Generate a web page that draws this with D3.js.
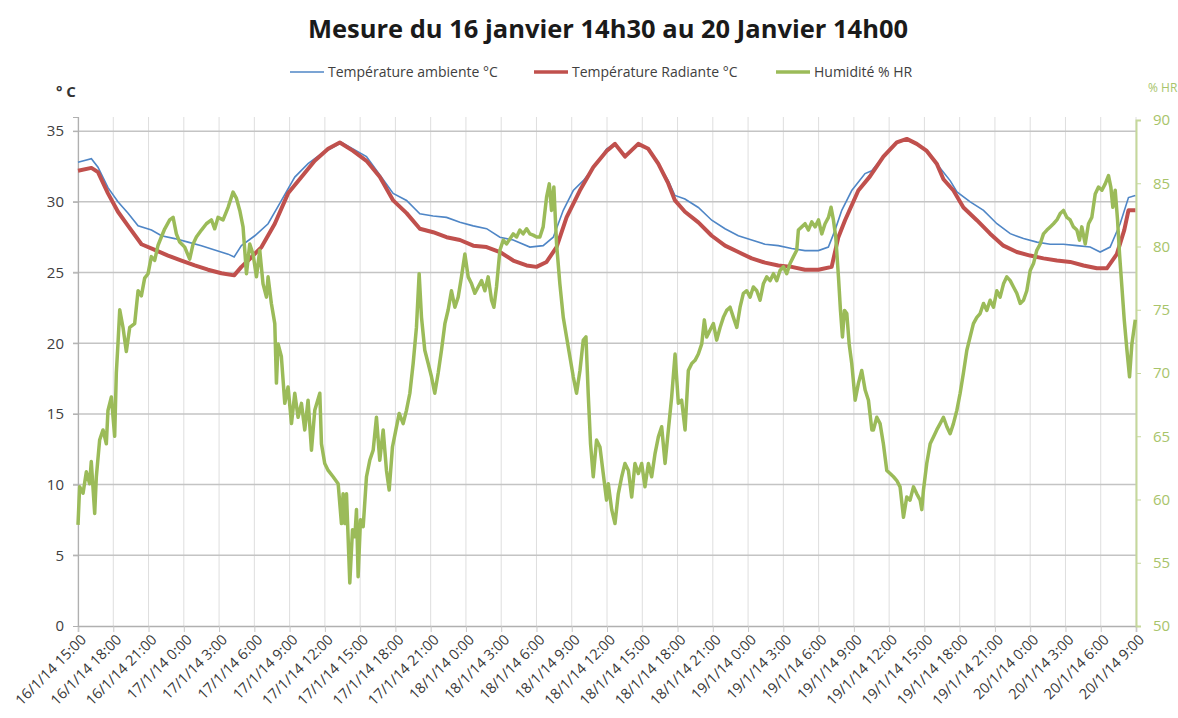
<!DOCTYPE html>
<html>
<head>
<meta charset="utf-8">
<script src="https://cdn.jsdelivr.net/npm/d3@7"></script>
<style>
  body { margin: 0; background: #fff; font-family: "Open Sans", sans-serif; }
</style>
</head>
<body>
<div id="chart"></div>
<script>
// hours after 16/1/14 15:00
var ambHours = [0,1.14,1.70,2.55,3.40,4.26,5.11,6.25,7.10,8.23,9.36,10.5,11.63,12.77,13.28,13.9,15.04,16.17,17.31,18.44,19.57,20.71,22.42,24.54,25.68,26.81,27.95,29.08,30.21,31.35,32.49,33.62,34.76,35.89,37.02,38.44,39.57,40.43,41.28,42.13,42.98,44.12,44.97,45.68,46.53,47.66,48.51,49.36,50.21,50.78,51.63,52.77,53.91,55.04,56.17,57.31,58.44,59.57,60.71,61.84,62.98,63.83,64.4,64.97,65.82,66.95,67.52,68.51,69.65,70.5,71.35,72.2,73.05,73.62,74.19,74.77,75.9,77.03,78.17,79.3,80.43,81.57,82.7,83.83,84.97,86.1,86.95,87.8,88.65,89.36,89.94]
var ambValues = [32.8,33.05,32.45,31.0,30.0,29.2,28.3,28.0,27.6,27.4,27.15,26.9,26.6,26.3,26.1,26.9,27.6,28.45,30.1,31.75,32.7,33.4,34.2,33.2,31.9,30.6,30.1,29.15,29.0,28.9,28.55,28.3,28.1,27.5,27.3,26.8,26.9,27.5,29.4,30.8,31.5,32.7,33.75,34.1,33.3,34.1,33.75,32.7,31.5,30.45,30.2,29.6,28.7,28.1,27.6,27.3,27.0,26.9,26.7,26.55,26.55,26.8,28.0,29.4,30.8,32.0,32.2,33.2,34.2,34.45,34.1,33.6,32.7,32.1,31.5,30.7,30.0,29.4,28.45,27.75,27.4,27.15,27.0,27.0,26.9,26.8,26.45,26.8,28.45,30.3,30.45]

var radHours = [0,1.14,1.70,2.55,3.40,4.26,5.40,6.53,7.66,8.80,9.93,11.06,12.2,13.28,13.9,14.47,15.61,16.74,17.87,19.01,20.14,21.28,22.27,23.4,24.54,25.68,26.81,27.95,29.08,30.21,31.35,32.49,33.62,34.76,35.89,37.02,38.16,39.0,39.86,40.71,41.56,42.69,43.83,44.97,45.68,46.53,47.66,48.51,49.36,50.21,50.78,51.63,52.77,53.91,55.04,56.17,57.31,58.44,59.57,60.71,61.84,62.98,64.11,64.68,65.25,66.38,67.37,68.51,69.65,70.5,71.35,72.2,73.05,73.62,74.47,75.32,76.46,77.59,78.72,79.86,80.99,82.13,83.27,84.4,85.53,86.67,87.52,88.37,89.0,89.36,89.94]
var radValues = [32.2,32.4,32.1,30.6,29.3,28.3,27.0,26.6,26.2,25.85,25.5,25.2,24.95,24.8,25.4,25.85,26.8,28.45,30.6,31.75,32.9,33.75,34.2,33.6,32.9,31.75,30.1,29.2,28.1,27.85,27.5,27.3,26.9,26.8,26.45,25.85,25.5,25.4,25.75,26.8,28.9,30.8,32.45,33.6,34.1,33.2,34.1,33.75,32.7,31.3,30.1,29.3,28.55,27.6,26.9,26.45,26.0,25.7,25.5,25.4,25.2,25.2,25.4,27.5,28.7,30.8,31.8,33.2,34.2,34.45,34.1,33.6,32.7,31.6,30.8,29.6,28.7,27.75,26.9,26.45,26.2,26.0,25.85,25.75,25.5,25.3,25.3,26.3,28.0,29.4,29.4]

var humHours = [
  0.00,0.14,0.43,0.71,0.99,1.13,1.42,1.56,1.84,2.13,2.41,2.55,2.84,3.12,3.26,3.40,3.55,3.83,4.11,4.40,4.82,5.11,5.39,5.67,5.96,6.24,6.52,6.81,7.09,7.38,7.80,8.09,8.37,8.65,9.08,9.50,9.79,10.07,10.50,10.92,11.35,11.63,11.91,12.34,12.77,13.19,13.48,13.76,14.04,14.33,14.61,14.89,15.18,15.46,15.74,16.03,16.17,16.45,16.74,16.88,17.02,17.30,17.59,17.87,18.16,18.44,18.72,19.01,19.29,19.57,19.86,20.14,20.57,20.71,20.99,21.28,21.70,22.13,22.41,22.55,
  22.70,22.84,23.12,23.35,23.55,23.69,23.83,24.03,24.26,24.54,24.82,25.11,25.39,25.67,25.96,26.24,26.47,26.75,27.04,27.32,27.66,27.94,28.23,28.51,28.79,29.02,29.22,29.50,29.79,30.07,30.35,30.64,30.92,31.21,31.49,31.77,32.06,32.34,32.62,32.91,33.19,33.48,33.76,34.04,34.33,34.61,34.89,35.18,35.38,35.60,35.89,36.17,36.45,36.74,37.02,37.31,37.59,37.87,38.16,38.44,38.72,39.01,39.29,39.57,39.86,40.09,40.28,40.48,40.71,40.99,41.28,41.56,41.84,42.13,42.41,42.70,42.98,43.21,43.40,43.60,43.83,44.11,44.40,44.68,44.96,
  45.11,45.40,45.68,45.96,46.25,46.53,46.82,47.10,47.38,47.67,47.95,48.23,48.52,48.80,49.09,49.37,49.65,49.94,50.22,50.50,50.79,51.07,51.35,51.64,51.92,52.21,52.49,52.77,53.06,53.28,53.48,53.77,54.05,54.33,54.62,54.90,55.18,55.47,55.75,56.04,56.32,56.60,56.89,57.17,57.45,57.74,58.02,58.30,58.59,58.87,59.16,59.44,59.72,60.01,60.29,60.57,60.86,61.14,61.28,61.57,61.85,62.13,62.42,62.70,62.99,63.27,63.55,63.84,64.06,64.26,64.46,64.69,64.86,65.03,65.20,65.40,65.60,65.82,66.11,66.39,66.67,66.96,67.24,67.53,
  67.66,67.95,68.23,68.51,68.80,69.08,69.37,69.65,69.93,70.22,70.50,70.78,71.07,71.35,71.64,71.78,71.92,72.20,72.49,72.77,73.05,73.34,73.62,73.91,74.19,74.47,74.76,75.04,75.32,75.61,75.89,76.17,76.46,76.74,77.03,77.31,77.59,77.88,78.16,78.44,78.73,79.01,79.30,79.58,79.86,80.15,80.43,80.71,81.00,81.28,81.56,81.85,82.13,82.42,82.70,82.98,83.27,83.55,83.83,84.12,84.40,84.68,84.97,85.19,85.39,85.68,85.96,86.24,86.53,86.81,87.10,87.38,87.66,87.86,88.03,88.23,88.43,88.60,88.80,89.00,89.23,89.45,89.65,89.94]
var humValues = [
  58.0,61.0,60.5,62.2,61.25,63.0,58.9,61.8,64.7,65.5,64.4,67.05,68.1,65.0,70.0,72.3,75.0,73.6,71.7,73.6,73.9,76.5,76.1,77.5,77.85,79.2,78.9,80.1,80.75,81.4,82.1,82.3,81.0,80.35,79.95,79.0,80.2,80.75,81.3,81.8,82.1,81.4,82.3,82.1,83.1,84.3,83.8,82.85,81.55,77.85,80.2,79.4,77.6,79.7,77.05,76.0,77.6,75.5,73.9,69.2,72.3,71.3,67.6,68.9,66.0,68.4,66.5,67.6,65.5,67.85,63.9,67.05,68.4,64.4,62.85,62.3,61.8,61.25,58.1,60.45,
  58.1,60.45,53.4,57.6,57.05,59.2,53.9,58.4,57.85,61.8,63.1,63.9,66.5,63.1,65.5,62.3,60.75,64.15,65.5,66.8,66.0,67.05,68.4,70.75,73.6,77.85,74.4,71.8,70.75,69.7,68.4,70.0,71.8,73.9,75.0,76.5,75.2,76.0,77.6,79.4,77.6,77.05,76.3,76.8,77.3,76.5,77.6,75.75,75.2,76.8,79.7,80.5,80.2,80.6,81.0,80.75,81.3,81.0,81.4,81.0,80.9,80.75,80.75,81.55,83.9,84.95,82.85,84.7,80.2,77.05,74.4,72.85,71.3,69.7,68.4,70.2,72.6,72.85,68.4,64.4,61.8,64.7,64.15,62.05,59.95,
  61.25,59.2,58.1,60.45,61.8,62.85,62.3,60.2,62.85,62.05,62.85,61.0,62.85,61.8,63.65,64.95,65.75,62.85,65.5,68.1,71.5,67.6,67.85,65.5,70.2,70.75,71.0,71.5,72.3,74.2,72.85,73.4,73.9,72.6,73.6,74.4,74.95,75.2,74.4,73.6,75.2,76.3,76.5,76.0,76.8,76.5,75.75,77.05,77.6,77.3,77.85,77.3,78.1,78.4,77.85,78.65,79.2,79.7,81.3,81.55,81.8,81.3,81.95,81.55,82.1,81.0,81.8,82.3,83.1,82.1,80.75,77.6,74.95,72.85,74.95,74.7,72.3,70.75,67.85,69.2,70.2,68.65,67.85,65.5,
  65.5,66.5,66.0,64.4,62.3,62.05,61.8,61.5,61.0,58.6,60.2,59.95,61.0,60.45,59.95,59.2,60.75,62.85,64.4,64.95,65.5,66.0,66.5,65.75,65.2,66.0,67.05,68.4,70.0,71.8,72.85,73.9,74.4,74.7,75.5,74.95,75.75,75.2,76.5,76.0,77.05,77.6,77.3,76.8,76.3,75.5,75.75,76.5,78.1,78.65,79.7,80.2,81.0,81.3,81.55,81.8,82.1,82.6,82.85,82.3,82.1,81.55,81.3,80.5,81.55,80.2,81.8,82.3,84.15,84.7,84.45,84.95,85.6,84.7,83.1,84.45,82.1,79.4,76.8,74.2,71.8,69.7,72.3,74.2]

var xLabels = ['16/1/14 15:00','16/1/14 18:00','16/1/14 21:00',
  '17/1/14 0:00','17/1/14 3:00','17/1/14 6:00','17/1/14 9:00','17/1/14 12:00','17/1/14 15:00','17/1/14 18:00','17/1/14 21:00',
  '18/1/14 0:00','18/1/14 3:00','18/1/14 6:00','18/1/14 9:00','18/1/14 12:00','18/1/14 15:00','18/1/14 18:00','18/1/14 21:00',
  '19/1/14 0:00','19/1/14 3:00','19/1/14 6:00','19/1/14 9:00','19/1/14 12:00','19/1/14 15:00','19/1/14 18:00','19/1/14 21:00',
  '20/1/14 0:00','20/1/14 3:00','20/1/14 6:00','20/1/14 9:00']
var tempTicks = [0,5,10,15,20,25,30,35]
var humTicks = [50,55,60,65,70,75,80,85,90]

var series = [
  {name: 'Température ambiente °C', color: '#4f86c6', width: 1.6},
  {name: 'Température Radiante °C', color: '#c0504d', width: 4},
  {name: 'Humidité % HR', color: '#9bbb59', width: 3.5}
]

var svg = d3.select('#chart')
  .append('svg')
  .attr('width', 1178)
  .attr('height', 718)

var plotLeft = 78, plotRight = 1136, plotTop = 117, plotBottom = 626

var x = d3.scaleLinear().domain([0, 90]).range([plotLeft, plotRight])
var yT = d3.scaleLinear().domain([0, 36]).range([plotBottom, plotTop])
var yH = d3.scaleLinear().domain([50, 90]).range([plotBottom, 120])
var xTicks = d3.range(0, 91, 3)

// vertical grid
svg.append('g').selectAll('line')
  .data(xTicks)
  .enter().append('line')
  .attr('x1', d => x(d)).attr('x2', d => x(d))
  .attr('y1', plotTop).attr('y2', plotBottom)
  .attr('stroke', '#dedede').attr('stroke-width', 1)

// horizontal grid
svg.append('g').selectAll('line')
  .data(tempTicks.slice(1))
  .enter().append('line')
  .attr('x1', plotLeft - 5).attr('x2', plotRight)
  .attr('y1', d => yT(d)).attr('y2', d => yT(d))
  .attr('stroke', '#c4c4c4').attr('stroke-width', 1.5)

// axes
var xAxis = svg.append('g')
  .attr('transform', `translate(0,${plotBottom})`)
  .call(d3.axisBottom(x).tickValues(xTicks).tickSize(6).tickFormat((d, i) => xLabels[i]))
xAxis.select('.domain').attr('stroke', '#b0b0b0').attr('stroke-width', 1.5)
xAxis.selectAll('.tick line').attr('stroke', '#c8c8c8')
xAxis.selectAll('text')
  .attr('x', 0).attr('y', 0).attr('dy', '0.35em')
  .attr('transform', 'translate(5,11) rotate(-45)')
  .style('text-anchor', 'end')
  .attr('fill', '#383838')
  .style('font-size', '14.5px')
  .style('font-family', '"Open Sans", sans-serif')

var yAxis = svg.append('g')
  .attr('transform', `translate(${plotLeft},0)`)
  .call(d3.axisLeft(yT).tickValues(tempTicks).tickSize(5).tickPadding(9))
yAxis.select('.domain').attr('stroke', '#b0b0b0').attr('stroke-width', 1.2)
yAxis.selectAll('.tick line').attr('stroke', '#b0b0b0')
yAxis.selectAll('text')
  .attr('fill', '#404040')
  .style('font-size', '15px')
  .style('font-family', '"Open Sans", sans-serif')

var y2Axis = svg.append('g')
  .attr('transform', `translate(${plotRight},0)`)
  .call(d3.axisRight(yH).tickValues(humTicks).tickSize(5).tickPadding(12))
y2Axis.select('.domain').attr('stroke', '#c5d89b').attr('stroke-width', 2)
y2Axis.selectAll('.tick line').attr('stroke', '#c5d89b')
y2Axis.selectAll('text')
  .attr('fill', '#a8c46a')
  .style('font-size', '15px')
  .style('font-family', '"Open Sans", sans-serif')

// lines
var lineT = d3.line().x(d => x(d[0])).y(d => yT(d[1]))
var lineH = d3.line().x(d => x(d[0])).y(d => yH(d[1]))

svg.append('path')
  .datum(d3.zip(ambHours, ambValues))
  .attr('d', lineT)
  .attr('fill', 'none')
  .attr('stroke', series[0].color)
  .attr('stroke-width', series[0].width)

svg.append('path')
  .datum(d3.zip(radHours, radValues))
  .attr('d', lineT)
  .attr('fill', 'none')
  .attr('stroke', series[1].color)
  .attr('stroke-width', series[1].width)
  .attr('stroke-linejoin', 'round')

svg.append('path')
  .datum(d3.zip(humHours, humValues))
  .attr('d', lineH)
  .attr('fill', 'none')
  .attr('stroke', series[2].color)
  .attr('stroke-width', series[2].width)
  .attr('stroke-linejoin', 'round')

// title
svg.append('text')
  .attr('x', 608).attr('y', 38)
  .attr('text-anchor', 'middle')
  .style('font-size', '25.5px')
  .style('font-weight', 'bold')
  .attr('fill', '#1a1a1a')
  .text('Mesure du 16 janvier 14h30 au 20 Janvier 14h00')

// legend
var legendX = [290, 534, 776]
var legend = svg.selectAll('.legend')
  .data(series)
  .enter()
  .append('g')
  .attr('class', 'legend')
  .attr('transform', (d, i) => `translate(${legendX[i]},72)`)
legend.append('line')
  .attr('x1', 0).attr('x2', 34)
  .attr('stroke', d => d.color)
  .attr('stroke-width', d => Math.min(d.width, 3.5))
legend.append('text')
  .attr('x', 38).attr('dy', '0.35em')
  .style('font-size', '14px')
  .attr('fill', '#404040')
  .text(d => d.name)

// axis units
svg.append('text')
  .attr('x', 56).attr('y', 97)
  .style('font-size', '15px')
  .style('font-weight', 'bold')
  .attr('fill', '#333')
  .text('° C')

svg.append('text')
  .attr('x', 1148).attr('y', 92)
  .style('font-size', '12px')
  .attr('fill', '#a8c46a')
  .text('% HR')
</script>
</body>
</html>
